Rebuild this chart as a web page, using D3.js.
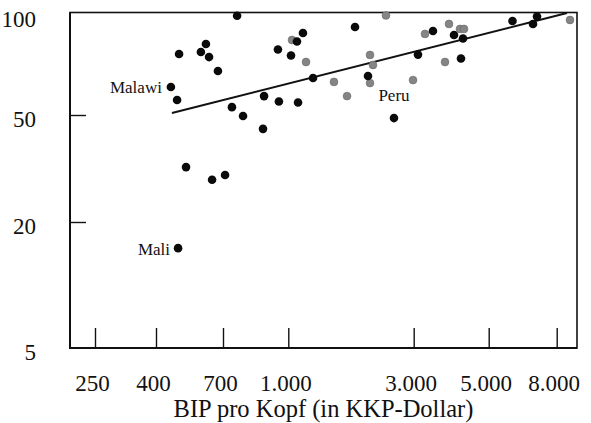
<!DOCTYPE html>
<html>
<head>
<meta charset="utf-8">
<script src="https://cdn.jsdelivr.net/npm/d3@7"></script>
<style>
  html, body { margin: 0; padding: 0; background: #fff; }
  svg { display: block; }
  text { font-family: "Liberation Serif", "Times New Roman", serif; fill: #111; }
</style>
</head>
<body>
<svg id="chart" width="591" height="423"></svg>
<script>
// ---- data ----
const xTickValues = [250, 400, 700, 1000, 3000, 5000, 8000];
const xTickLabels = ["250", "400", "700", "1.000", "3.000", "5.000", "8.000"];
const yTickValues = [5, 20, 50, 100];
const yTickLabels = ["5", "20", "50", "100"];

// black points: GDP per capita (PPP $), value (%)
const blackGdp = [453, 477, 485, 582, 607, 623, 671, 735, 756, 781, 871, 876, 945, 950,
                  1024, 1079, 1089, 1137, 1242, 1794, 2010, 2524, 3089, 3421, 3948, 4197,
                  4140, 5894, 6791, 6982, 514, 639, 708, 481];
const blackVal = [60.7, 55.5, 76.3, 77.4, 81.8, 74.7, 67.8, 52.8, 99.5, 49.6, 44.4, 57.0, 78.7, 54.9,
                  75.5, 83.2, 54.5, 88.3, 64.6, 92.0, 65.5, 48.7, 76.0, 89.5, 87.1, 85.0,
                  74.0, 95.9, 94.0, 99.0, 32.0, 28.7, 29.9, 15.0];
// grey points
const greyGdp = [1033, 1168, 1492, 1673, 2046, 2100, 2046, 2353, 2982, 3240, 3713, 3815, 4112, 4226, 8770];
const greyVal = [84.1, 72.2, 62.9, 57.0, 75.8, 70.7, 62.4, 99.7, 63.7, 87.7, 72.2, 94.0, 90.8, 90.8, 96.6];

// labelled countries
const labelNames = ["Malawi", "Mali", "Peru"];
const labelGdp = [453, 481, 2524];
const labelVal = [60.7, 15.0, 48.7];

// regression line end points
const trendGdp = [457, 8590];
const trendVal = [50.7, 101.4];

const xTitle = "BIP pro Kopf (in KKP-Dollar)";

// ---- layout ----
const frame = { left: 70, right: 577, top: 12.5, bottom: 348 };

const x = d3.scaleLog()
  .domain(xTickValues)
  .range([95, 156, 223, 288.3, 413.7, 488.7, 556.7]);
const y = d3.scaleLog()
  .domain(yTickValues)
  .range([348, 222, 115, 15]);

const svg = d3.select("#chart");

// frame: thinner top/right, heavier left/bottom
svg.append("rect")
  .attr("x", frame.left).attr("y", frame.top)
  .attr("width", frame.right - frame.left).attr("height", frame.bottom - frame.top)
  .attr("fill", "none").attr("stroke", "#111").attr("stroke-width", 1.6);
svg.append("path")
  .attr("d", `M${frame.left},${frame.top}V${frame.bottom}H${frame.right}`)
  .attr("fill", "none").attr("stroke", "#111").attr("stroke-width", 2);

// x axis
const xAxis = d3.axisBottom(x)
  .tickValues(xTickValues)
  .tickFormat((d, i) => xTickLabels[i])
  .tickSizeInner(-20).tickSizeOuter(0).tickPadding(27);
const gx = svg.append("g").attr("transform", `translate(0,${frame.bottom})`).call(xAxis);
gx.select(".domain").remove();
gx.selectAll(".tick line").attr("stroke", "#111").attr("stroke-width", 1.4);
gx.selectAll(".tick text")
  .attr("font-size", 23).attr("dx", -3).attr("fill", "#111")
  .style("font-family", "'Liberation Serif', serif");

// y axis
const yAxis = d3.axisLeft(y)
  .tickValues(yTickValues)
  .tickFormat((d, i) => yTickLabels[i])
  .tickSizeInner(-16).tickSizeOuter(0).tickPadding(34);
const gy = svg.append("g").attr("transform", `translate(${frame.left},0)`).call(yAxis);
gy.select(".domain").remove();
gy.selectAll(".tick line")
  .attr("stroke", "#111").attr("stroke-width", 1.4)
  .attr("display", d => (d === 5 || d === 100) ? "none" : null);
gy.selectAll(".tick text")
  .attr("font-size", 23).attr("dy", "0.8em").attr("fill", "#111")
  .attr("y", -7)
  .style("font-family", "'Liberation Serif', serif");

// trend line
svg.append("line")
  .attr("x1", x(trendGdp[0])).attr("y1", y(trendVal[0]))
  .attr("x2", x(trendGdp[1])).attr("y2", y(trendVal[1]))
  .attr("stroke", "#111").attr("stroke-width", 2);

// grey points
svg.append("g").selectAll("circle")
  .data(greyGdp.map((g, i) => [g, greyVal[i]]))
  .join("circle")
  .attr("cx", d => x(d[0])).attr("cy", d => y(d[1]))
  .attr("r", 3.9)
  .attr("fill", "#858585").attr("stroke", "#666").attr("stroke-width", 0.6);

// black points
svg.append("g").selectAll("circle")
  .data(blackGdp.map((g, i) => [g, blackVal[i]]))
  .join("circle")
  .attr("cx", d => x(d[0])).attr("cy", d => y(d[1]))
  .attr("r", 4.3)
  .attr("fill", "#0a0a0a");

// country labels
const labelAnchor = ["end", "end", "middle"];
const labelDx = [-9, -8, 0];
const labelDy = [6, 7, -17];
svg.append("g").selectAll("text")
  .data(labelNames.map((n, i) => ({ n, g: labelGdp[i], v: labelVal[i], i })))
  .join("text")
  .attr("x", d => x(d.g) + labelDx[d.i])
  .attr("y", d => y(d.v) + labelDy[d.i])
  .attr("text-anchor", d => labelAnchor[d.i])
  .attr("font-size", 17)
  .text(d => d.n);

// x title
svg.append("text")
  .attr("x", (frame.left + frame.right) / 2)
  .attr("y", 416.5)
  .attr("text-anchor", "middle")
  .attr("font-size", 24.5)
  .text(xTitle);
</script>
</body>
</html>
